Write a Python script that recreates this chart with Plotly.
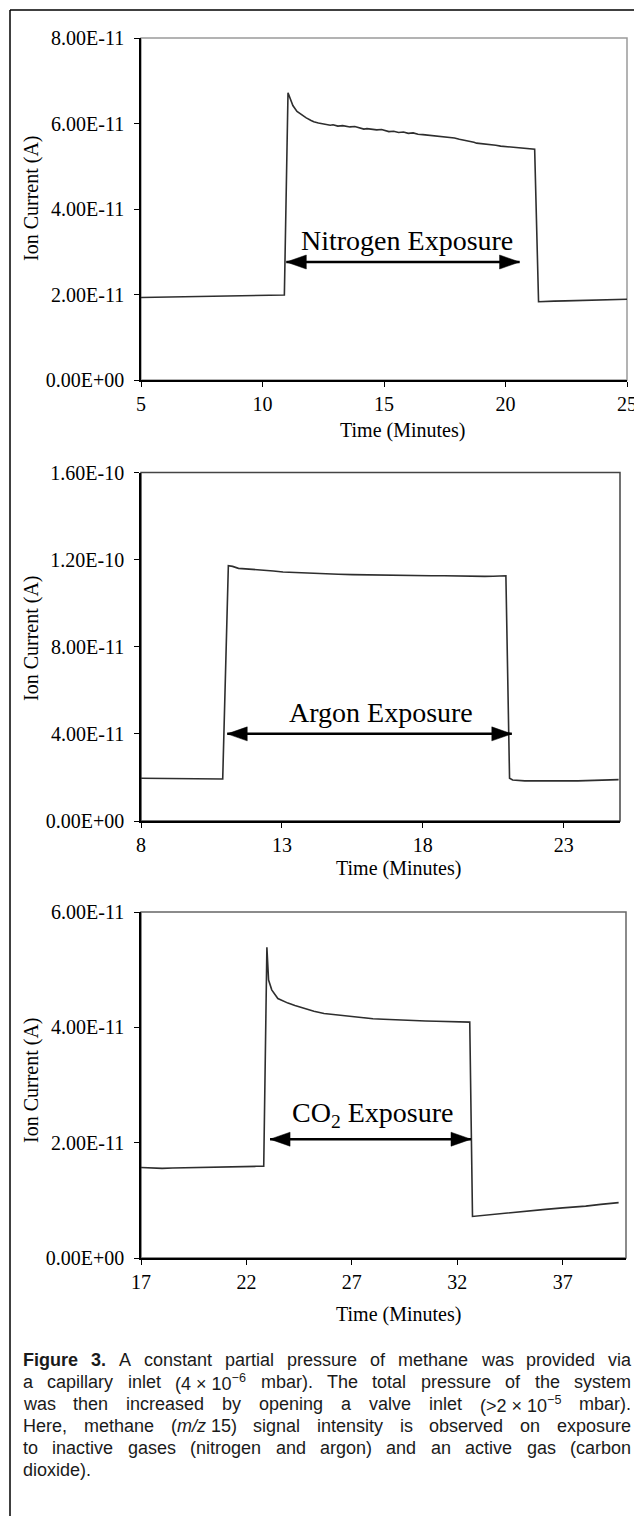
import plotly.graph_objects as go

W, H = 634, 1516

# ---------------- data ----------------
# Panel 1: nitrogen exposure (time in minutes, ion current in A)
n2_time = [5.0, 5.5, 6.0, 6.5, 7.0, 7.5, 8.0, 8.5, 9.0, 9.5, 10.0, 10.5, 10.9,
           11.05, 11.15, 11.25, 11.42, 11.6, 11.8, 12.0, 12.11, 12.3, 12.5, 12.6, 12.79,
           12.9, 13.1, 13.3, 13.48, 13.6, 13.8, 14.0, 14.17, 14.3, 14.5, 14.7, 14.9,
           15.05, 15.2, 15.4, 15.6, 15.8, 16.0, 16.2, 16.4, 16.6, 16.8, 17.0, 17.2,
           17.48, 17.7, 17.9, 18.1, 18.3, 18.5, 18.7, 18.81, 19.0, 19.2, 19.4, 19.6,
           19.8, 19.97, 20.2, 20.4, 20.6, 20.8, 21.0, 21.2,
           21.36, 21.6, 22.0, 22.46, 23.0, 23.5, 24.0, 24.5, 25.0]
n2_current = [1.93e-11, 1.935e-11, 1.94e-11, 1.945e-11, 1.95e-11, 1.955e-11, 1.965e-11, 1.96e-11,
              1.97e-11, 1.975e-11, 1.985e-11, 1.99e-11, 1.99e-11,
              6.72e-11, 6.55e-11, 6.42e-11, 6.28e-11, 6.20e-11, 6.13e-11, 6.07e-11, 6.04e-11,
              6.01e-11, 5.99e-11, 5.97e-11, 5.96e-11, 5.97e-11, 5.94e-11, 5.95e-11, 5.93e-11,
              5.92e-11, 5.93e-11, 5.89e-11, 5.87e-11, 5.88e-11, 5.86e-11, 5.85e-11, 5.86e-11,
              5.83e-11, 5.81e-11, 5.82e-11, 5.79e-11, 5.80e-11, 5.77e-11, 5.78e-11, 5.75e-11,
              5.74e-11, 5.73e-11, 5.72e-11, 5.71e-11, 5.69e-11, 5.68e-11, 5.66e-11, 5.63e-11,
              5.61e-11, 5.59e-11, 5.56e-11, 5.54e-11, 5.53e-11, 5.52e-11, 5.50e-11, 5.49e-11,
              5.47e-11, 5.46e-11, 5.45e-11, 5.43e-11, 5.42e-11, 5.41e-11, 5.40e-11, 5.40e-11,
              1.83e-11, 1.84e-11, 1.845e-11, 1.85e-11, 1.86e-11, 1.87e-11, 1.88e-11, 1.885e-11, 1.89e-11]

# Panel 2: argon exposure
ar_time = [8.0, 8.5, 9.0, 9.5, 10.0, 10.5, 10.9,
           11.1, 11.25, 11.46, 11.8, 12.32, 12.7, 13.04, 13.5, 14.0, 14.47, 15.0, 15.5,
           15.9, 16.5, 17.0, 17.33, 17.8, 18.3, 18.76, 19.2, 19.6, 19.9, 20.2, 20.5, 20.95,
           21.08, 21.19, 21.62, 22.0, 22.5, 23.05, 23.5, 24.0, 24.5, 24.95]
ar_current = [1.96e-11, 1.95e-11, 1.96e-11, 1.95e-11, 1.95e-11, 1.94e-11, 1.93e-11,
              11.72e-11, 11.69e-11, 11.60e-11, 11.57e-11, 11.54e-11, 11.48e-11, 11.43e-11,
              11.40e-11, 11.37e-11, 11.36e-11, 11.33e-11, 11.31e-11, 11.30e-11, 11.28e-11,
              11.27e-11, 11.26e-11, 11.27e-11, 11.26e-11, 11.26e-11, 11.25e-11, 11.24e-11,
              11.21e-11, 11.23e-11, 11.24e-11, 11.26e-11,
              1.96e-11, 1.88e-11, 1.84e-11, 1.85e-11, 1.84e-11, 1.85e-11, 1.84e-11, 1.86e-11,
              1.87e-11, 1.90e-11]

# Panel 3: CO2 exposure
co2_time = [17.0, 17.5, 18.0, 18.5, 19.0, 19.5, 20.0, 20.5, 21.0, 21.5, 22.0, 22.5, 22.82,
            22.97, 23.05, 23.2, 23.49, 23.97, 24.3, 24.73, 25.2, 25.68, 26.2, 26.64, 27.1,
            27.59, 28.0, 28.5, 29.0, 29.5, 30.0, 30.5, 31.0, 31.41, 32.0, 32.59,
            32.72, 33.0, 33.5, 34.27, 35.0, 35.5, 36.18, 37.0, 37.5, 38.09, 38.8, 39.65]
co2_current = [1.57e-11, 1.56e-11, 1.555e-11, 1.56e-11, 1.565e-11, 1.565e-11, 1.57e-11,
               1.575e-11, 1.58e-11, 1.58e-11, 1.585e-11, 1.59e-11, 1.59e-11,
               5.39e-11, 4.82e-11, 4.65e-11, 4.50e-11, 4.42e-11, 4.38e-11, 4.33e-11, 4.28e-11,
               4.24e-11, 4.22e-11, 4.20e-11, 4.18e-11, 4.16e-11, 4.15e-11, 4.14e-11, 4.13e-11,
               4.13e-11, 4.12e-11, 4.11e-11, 4.105e-11, 4.10e-11, 4.095e-11, 4.09e-11,
               0.72e-11, 0.73e-11, 0.75e-11, 0.786e-11, 0.81e-11, 0.83e-11, 0.844e-11,
               0.87e-11, 0.88e-11, 0.90e-11, 0.93e-11, 0.96e-11]

# axis ranges and ticks
x_ranges = [[5, 25], [8, 25], [17, 40]]
x_ticks = [[5, 10, 15, 20, 25], [8, 13, 18, 23], [17, 22, 27, 32, 37]]
y_ranges = [[0, 8e-11], [0, 1.6e-10], [0, 6e-11]]
y_ticks = [[0, 2e-11, 4e-11, 6e-11, 8e-11],
           [0, 4e-11, 8e-11, 1.2e-10, 1.6e-10],
           [0, 2e-11, 4e-11, 6e-11]]
y_ticktext = [["0.00E+00", "2.00E-11", "4.00E-11", "6.00E-11", "8.00E-11"],
              ["0.00E+00", "4.00E-11", "8.00E-11", "1.20E-10", "1.60E-10"],
              ["0.00E+00", "2.00E-11", "4.00E-11", "6.00E-11"]]

# exposure labels and arrows
exposure_labels = ["Nitrogen Exposure", "Argon Exposure", "CO<sub>2</sub> Exposure"]
label_x = [15.94, 16.5, 28.0]
label_y = [3.27e-11, 5.0e-11, 2.48e-11]
arrow_start = [10.98, 11.06, 23.12]
arrow_end = [20.58, 21.16, 32.65]
arrow_y = [2.76e-11, 4.0e-11, 2.06e-11]

x_title = "Time (Minutes)"
y_title = "Ion Current (A)"

# caption, one list of tokens per printed line; a token is a list of (text, style)
caption_lines = [
    [[("Figure", "b")], [("3.", "b")], [("A", "r")], [("constant", "r")], [("partial", "r")],
     [("pressure", "r")], [("of", "r")], [("methane", "r")], [("was", "r")],
     [("provided", "r")], [("via", "r")]],
    [[("a", "r")], [("capillary", "r")], [("inlet", "r")], [("(4 × 10", "r"), ("−6", "sup")],
     [("mbar).", "r")], [("The", "r")], [("total", "r")], [("pressure", "r")], [("of", "r")],
     [("the", "r")], [("system", "r")]],
    [[("was", "r")], [("then", "r")], [("increased", "r")], [("by", "r")], [("opening", "r")],
     [("a", "r")], [("valve", "r")], [("inlet", "r")], [("(>2 × 10", "r"), ("−5", "sup")],
     [("mbar).", "r")]],
    [[("Here,", "r")], [("methane", "r")], [("(", "r"), ("m/z", "i"), (" 15)", "r")],
     [("signal", "r")], [("intensity", "r")], [("is", "r")], [("observed", "r")],
     [("on", "r")], [("exposure", "r")]],
    [[("to", "r")], [("inactive", "r")], [("gases", "r")], [("(nitrogen", "r")], [("and", "r")],
     [("argon)", "r")], [("and", "r")], [("an", "r")], [("active", "r")], [("gas", "r")],
     [("(carbon", "r")]],
    [[("dioxide).", "r")]],
]

# ---------------- layout helpers ----------------
def px_x(x):
    return x / W


def px_y(y):
    return 1 - y / H


# plot areas in page pixels: (left, right, top, bottom)
areas = [(141, 627, 38, 380), (141, 620, 472.5, 821), (141, 626, 912, 1258)]
frame_colors = ["#9a9a9a", "#444444", "#666666"]
ytitle_center = [198, 638, 1080]
xtitle_center = [(402, 431), (398, 869), (398, 1314)]

SERIF = "Liberation Serif, Times New Roman, serif"
SANS = "Liberation Sans, Arial, sans-serif"

fig = go.Figure()
series = [(n2_time, n2_current), (ar_time, ar_current), (co2_time, co2_current)]
shapes = []
annotations = []

for i, (t, c) in enumerate(series):
    xa = "x" if i == 0 else f"x{i+1}"
    ya = "y" if i == 0 else f"y{i+1}"
    fig.add_trace(go.Scatter(x=t, y=c, mode="lines", xaxis=xa, yaxis=ya,
                             line=dict(color="#2e2e2e", width=1.6), showlegend=False,
                             hoverinfo="skip"))
    left, right, top, bottom = areas[i]
    axis_common = dict(showline=True, linecolor="black", linewidth=1.6, ticks="outside",
                       ticklen=5, tickwidth=1.4, tickcolor="black", showgrid=False,
                       zeroline=False, fixedrange=True, automargin=False,
                       tickfont=dict(family=SERIF, size=20, color="black"))
    xkey = "xaxis" if i == 0 else f"xaxis{i+1}"
    ykey = "yaxis" if i == 0 else f"yaxis{i+1}"
    fig.update_layout(**{
        xkey: dict(axis_common, domain=[px_x(left), px_x(right)], range=x_ranges[i],
                   tickmode="array", tickvals=x_ticks[i], anchor=ya, ticklabelstandoff=0,
                   ticklabeloverflow="allow"),
        ykey: dict(axis_common, domain=[px_y(bottom), px_y(top)], range=y_ranges[i],
                   tickmode="array", tickvals=y_ticks[i], ticktext=y_ticktext[i], anchor=xa,
                   ticklabelstandoff=6),
    })
    # light frame on top/right
    shapes.append(dict(type="rect", xref=f"{xa} domain", yref=f"{ya} domain", x0=0, x1=1,
                       y0=0, y1=1, line=dict(color=frame_colors[i], width=1.5), layer="below"))
    # double headed arrow
    shapes.append(dict(type="line", xref=xa, yref=ya, x0=arrow_start[i], x1=arrow_end[i],
                       y0=arrow_y[i], y1=arrow_y[i], line=dict(color="black", width=2.5)))
    shapes.append(dict(type="path", xref=xa, yref=ya, xsizemode="pixel", ysizemode="pixel",
                       xanchor=arrow_start[i], yanchor=arrow_y[i],
                       path="M0,0 L20,7 L20,-7 Z", fillcolor="black",
                       line=dict(color="black", width=0.5)))
    shapes.append(dict(type="path", xref=xa, yref=ya, xsizemode="pixel", ysizemode="pixel",
                       xanchor=arrow_end[i], yanchor=arrow_y[i],
                       path="M0,0 L-20,7 L-20,-7 Z", fillcolor="black",
                       line=dict(color="black", width=0.5)))
    annotations.append(dict(text=exposure_labels[i], xref=xa, yref=ya, x=label_x[i],
                            y=label_y[i], xanchor="center", yanchor="middle", showarrow=False,
                            font=dict(family=SERIF, size=28, color="black")))
    annotations.append(dict(text=y_title, xref="paper", yref="paper", x=px_x(31),
                            y=px_y(ytitle_center[i]), xanchor="center", yanchor="middle",
                            textangle=-90, showarrow=False,
                            font=dict(family=SERIF, size=20, color="black")))
    annotations.append(dict(text=x_title, xref="paper", yref="paper",
                            x=px_x(xtitle_center[i][0]), y=px_y(xtitle_center[i][1]),
                            xanchor="center", yanchor="middle", showarrow=False,
                            font=dict(family=SERIF, size=20, color="black")))

# page border (left and top)
shapes.append(dict(type="line", xref="paper", yref="paper", x0=px_x(10), x1=px_x(10),
                   y0=0, y1=px_y(10), line=dict(color="black", width=1.5)))
shapes.append(dict(type="line", xref="paper", yref="paper", x0=px_x(10), x1=1,
                   y0=px_y(10), y1=px_y(10), line=dict(color="black", width=1.5)))

# ---------------- caption (justified, word by word) ----------------
ARIAL = {' ': 278, '(': 333, ')': 333, '.': 278, ',': 278, '/': 278, '>': 584, '×': 584,
         '−': 584, 'A': 667, 'F': 611, 'H': 722, 'T': 611,
         'a': 556, 'b': 556, 'c': 500, 'd': 556, 'e': 556, 'f': 278, 'g': 556, 'h': 556,
         'i': 222, 'j': 222, 'k': 500, 'l': 222, 'm': 833, 'n': 556, 'o': 556, 'p': 556,
         'q': 556, 'r': 333, 's': 500, 't': 278, 'u': 556, 'v': 500, 'w': 722, 'x': 500,
         'y': 500, 'z': 500}
ARIAL_B = {'F': 611, 'i': 278, 'g': 611, 'u': 611, 'r': 389, 'e': 556, '.': 278, ' ': 278}
CAP_SIZE = 18


def seg_width(s, kind):
    table = ARIAL_B if kind == "b" else ARIAL
    f = CAP_SIZE * (0.7 if kind == "sup" else 1.0)
    return sum(table.get(ch, 556) for ch in s) / 1000 * f


def esc(s):
    return s.replace("&", "&amp;").replace("<", "&lt;").replace(">", "&gt;")


def seg_html(s, kind):
    s = esc(s)
    if kind == "b":
        return f"<b>{s}</b>"
    if kind == "i":
        return f"<i>{s}</i>"
    if kind == "sup":
        return f"<sup>{s}</sup>"
    return s


cap_left, cap_right = 22, 630
first_baseline, line_step = 1366, 22
for li, tokens in enumerate(caption_lines):
    widths = [sum(seg_width(s, k) for s, k in tok) for tok in tokens]
    gaps = len(tokens) - 1
    justify = li < len(caption_lines) - 1 and gaps > 0
    if justify:
        gap = (cap_right - cap_left - sum(widths)) / gaps
    else:
        gap = ARIAL[' '] / 1000 * CAP_SIZE
    xpos = cap_left
    ycenter = first_baseline + li * line_step - 6
    for tok, w in zip(tokens, widths):
        html = "".join(seg_html(s, k) for s, k in tok)
        annotations.append(dict(text=html, xref="paper", yref="paper", x=px_x(xpos - 1),
                                y=px_y(ycenter), xanchor="left", yanchor="middle",
                                showarrow=False,
                                font=dict(family=SANS, size=CAP_SIZE, color="#1a1a1a")))
        xpos += w + gap

fig.update_layout(width=W, height=H, margin=dict(l=0, r=0, t=0, b=0),
                  paper_bgcolor="white", plot_bgcolor="white",
                  shapes=shapes, annotations=annotations, showlegend=False)

# keep the partly visible last tick label clipped at the page edge, as in the original
clip_js = ("document.documentElement.style.overflow='hidden';"
           "document.body.style.overflow='hidden';"
           "document.querySelectorAll('.main-svg').forEach(function(s){s.style.overflow='hidden';});")

fig.write_html("out.html", config={"displayModeBar": False}, post_script=clip_js)
